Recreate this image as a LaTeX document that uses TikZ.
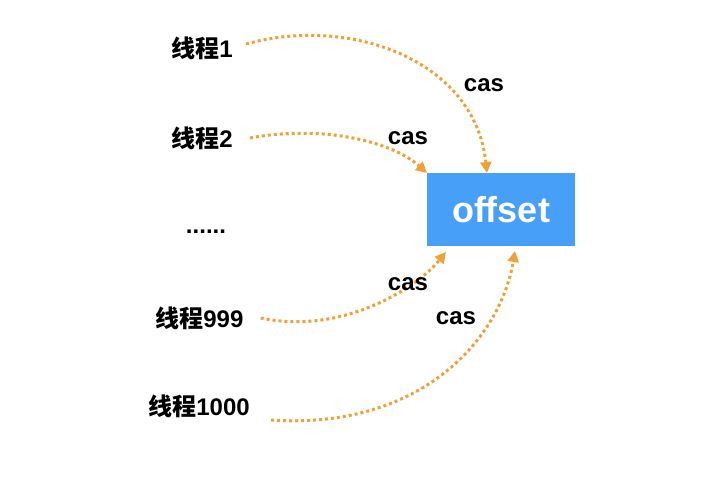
\documentclass[tikz,border=0pt]{standalone}
\usepackage{fontspec}
\setmainfont{Liberation Sans}
\newfontfamily\cjk{Noto Sans CJK SC Bold}
\usetikzlibrary{arrows.meta}
\definecolor{boxblue}{HTML}{479FF8}
\definecolor{arr}{HTML}{F0A035}
\begin{document}
\begin{tikzpicture}[x=1pt,y=-1pt,
  lbl/.style={font=\fontsize{24}{28}\selectfont\bfseries,outer sep=8pt},
  caslbl/.style={font=\fontsize{24}{28}\selectfont\bfseries},
  conn/.style={arr,line width=3pt,dash pattern=on 3pt off 3pt,-{Triangle[length=11pt,width=11pt]}}]
\useasboundingbox (0,0) rectangle (719,477);
\node[fill=boxblue,minimum width=148pt,minimum height=73pt,inner sep=0,text=white,font=\fontsize{36}{40}\selectfont\bfseries] (off) at (501,209.5) {offset};
\node[lbl,anchor=west,outer sep=0pt] (t1) at (168,48) {{\cjk 线程}1};
\node[lbl,anchor=west,outer sep=0pt] (t2) at (168,138) {{\cjk 线程}2};
\node[font=\fontsize{24}{28}\selectfont\bfseries] (dots) at (206,232) {......};
\node[lbl,anchor=west,outer sep=0pt] (t3) at (152,318) {{\cjk 线程}999};
\node[lbl,anchor=west,outer sep=0pt] (t4) at (145,406) {{\cjk 线程}1000};
\coordinate (e1) at (487,173);
\coordinate (e2) at (427,173);
\coordinate (e3) at (446,252);
\coordinate (e4) at (515,251);
\draw[conn] (t1.east) ++(10,-4) .. controls (350,15) and (475,60) .. (e1);
\draw[conn] (t2.east) ++(14,0) .. controls (320,125) and (390,140) .. (e2);
\draw[conn] (t3.east) ++(14,0) .. controls (340,335) and (415,290) .. (e3);
\draw[conn] (t4.east) ++(18,14) .. controls (420,430) and (500,340) .. (e4);
\node[caslbl] (c1) at (484,85) {cas};
\node[caslbl] (c2) at (408,138) {cas};
\node[caslbl] (c3) at (408,284) {cas};
\node[caslbl] (c4) at (456,318) {cas};
\end{tikzpicture}
\end{document}
